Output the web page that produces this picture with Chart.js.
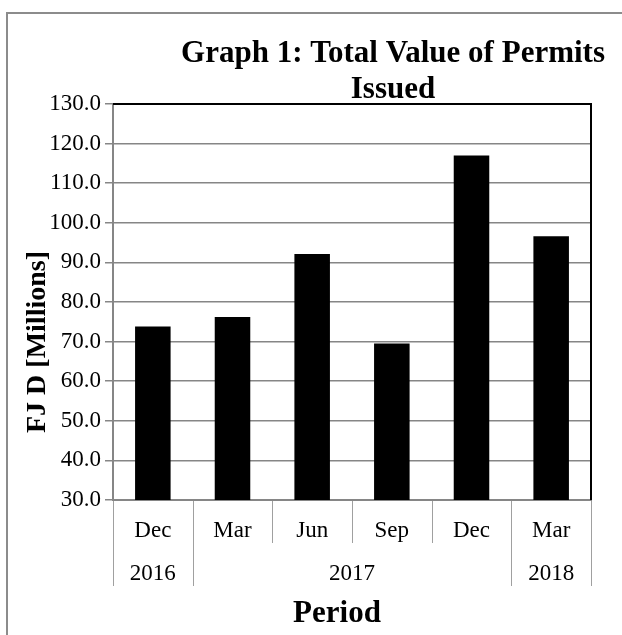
<!DOCTYPE html>
<html><head><meta charset="utf-8">
<script src="https://cdn.jsdelivr.net/npm/chart.js@4.4.1/dist/chart.umd.min.js"></script>
<style>
html,body{margin:0;padding:0;background:#fff;overflow:hidden;width:622px;height:635px;}
#frame{position:absolute;left:6px;top:12px;border:2px solid #8c8c8c;width:770px;height:700px;}
canvas{display:block;}
</style></head><body>
<div id="frame"><canvas id="c" width="770" height="700"></canvas></div>
<script>
const months = ['Dec','Mar','Jun','Sep','Dec','Mar'];
const years = ['2016','2017','2018'];
const yearSpans = [1,4,1];
const values = [73.8, 76.2, 92.1, 69.5, 117.0, 96.6];
const yMin = 30, yMax = 130, yStep = 10;
const titleLines = ['Graph 1: Total Value of Permits', 'Issued'];
const xTitle = 'Period';
const yTitle = 'FJ D [Millions]';

const SERIF = '"Liberation Serif", "Times New Roman", serif';
const GRID = '#868686';

const decor = {
  id: 'decor',
  afterDraw(chart) {
    const ctx = chart.ctx, ca = chart.chartArea, x = chart.scales.x;
    ctx.save();
    // black top/right plot border
    ctx.strokeStyle = '#000'; ctx.lineWidth = 2;
    ctx.beginPath();
    ctx.moveTo(ca.left, ca.top); ctx.lineTo(ca.right, ca.top); ctx.lineTo(ca.right, ca.bottom);
    ctx.stroke();
    // category separators + year group labels
    const n = months.length;
    const half = (x.getPixelForValue(1) - x.getPixelForValue(0)) / 2;
    const boundaries = new Set([0]);
    let acc = 0;
    yearSpans.forEach(s => { acc += s; boundaries.add(acc); });
    ctx.strokeStyle = '#a0a0a0'; ctx.lineWidth = 1;
    for (let i = 0; i <= n; i++) {
      const px = Math.round(x.getPixelForValue(i) - half) + 0.5;
      const long = boundaries.has(i);
      ctx.beginPath();
      ctx.moveTo(px, ca.bottom + 1);
      ctx.lineTo(px, ca.bottom + (long ? 86 : 43));
      ctx.stroke();
    }
    ctx.fillStyle = '#000';
    ctx.font = '23px ' + SERIF;
    ctx.textAlign = 'center'; ctx.textBaseline = 'alphabetic';
    let start = 0;
    years.forEach((y, k) => {
      const a = x.getPixelForValue(start) - half;
      const b = x.getPixelForValue(start + yearSpans[k] - 1) + half;
      ctx.fillText(y, (a + b) / 2, ca.bottom + 80);
      start += yearSpans[k];
    });
    // titles
    ctx.font = 'bold 31px ' + SERIF;
    ctx.fillText(titleLines[0], chart.width / 2, 48);
    ctx.fillText(titleLines[1], chart.width / 2, 84);
    ctx.fillText(xTitle, (ca.left + ca.right) / 2 - 15, ca.bottom + 122);
    ctx.font = 'bold 28px ' + SERIF;
    ctx.translate(37, (ca.top + ca.bottom) / 2 + 40);
    ctx.rotate(-Math.PI / 2);
    ctx.fillText(yTitle, 0, 0);
    ctx.restore();
  }
};

new Chart(document.getElementById('c'), {
  type: 'bar',
  data: {
    labels: months,
    datasets: [{ data: values, backgroundColor: '#000', borderWidth: 0,
      barPercentage: 0.446, categoryPercentage: 1 }]
  },
  options: {
    responsive: false, animation: false, devicePixelRatio: 1,
    layout: { padding: { top: 90, left: 0, right: 187, bottom: 114 } },
    plugins: { legend: { display: false }, tooltip: { enabled: false }, title: { display: false } },
    scales: {
      x: {
        grid: { display: false, drawTicks: false },
        border: { display: true, color: GRID, width: 2 },
        ticks: { color: '#000', font: { family: SERIF, size: 23 }, padding: 17, maxRotation: 0 },
        afterFit(s) { s.height = 100; }
      },
      y: {
        min: yMin, max: yMax,
        grid: { color: GRID, lineWidth: 1.5, tickLength: 8, tickColor: GRID },
        border: { display: true, color: GRID, width: 2 },
        ticks: { stepSize: yStep, color: '#000', font: { family: SERIF, size: 23 }, padding: 4,
          callback: v => Number(v).toFixed(1) },
        afterFit(s) { s.width = 105; }
      }
    }
  },
  plugins: [decor]
});
</script>
</body></html>
